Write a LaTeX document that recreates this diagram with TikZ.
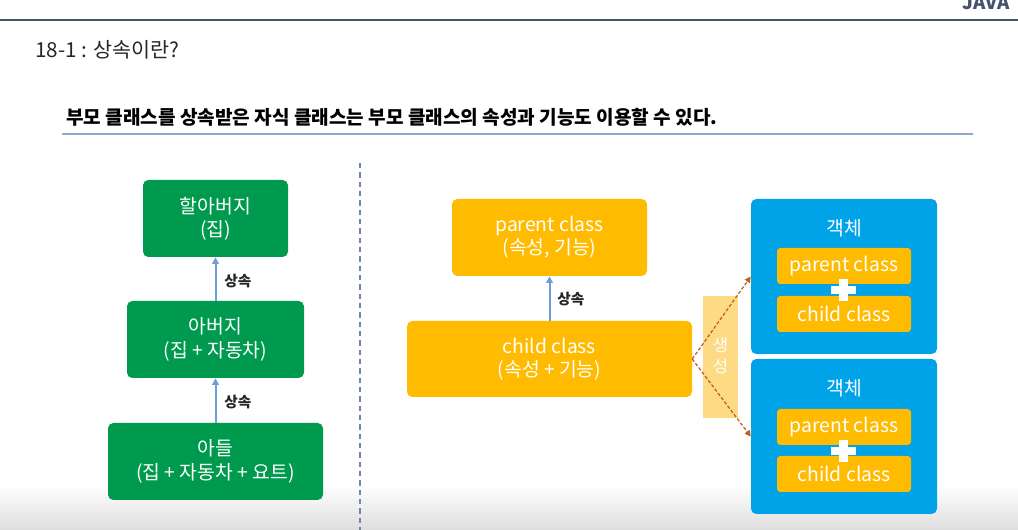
\documentclass[tikz,border=0pt]{standalone}
\usepackage{fontspec}
\setmainfont{Noto Sans CJK KR}
\usetikzlibrary{arrows.meta,calc}
\definecolor{hdr}{HTML}{44546A}
\definecolor{sep}{HTML}{8FAAC8}
\definecolor{gbox}{HTML}{009A4E}
\definecolor{ybox}{HTML}{FFBB00}
\definecolor{bbox}{HTML}{00A2E8}
\definecolor{genbox}{HTML}{FDDB85}
\definecolor{arrb}{HTML}{6A9FD8}
\definecolor{arro}{HTML}{C55A11}
\tikzset{
  box/.style={rounded corners=4pt, inner sep=0pt, align=center, text=white,
     font=\fontsize{14.5}{17.5}\selectfont},
  gbx/.style={box, fill=gbox},
  ybx/.style={box, fill=ybox},
  bbx/.style={box, fill=bbox},
  ibx/.style={box, fill=ybox, rounded corners=2.5pt, font=\fontsize{14.5}{16}\selectfont},
  inh/.style={draw=arrb, line width=1.5pt, -{Triangle[length=5pt,width=5pt]}},
  inhlbl/.style={font=\bfseries\fontsize{11}{13}\selectfont, text=black!85, inner sep=0pt, anchor=west},
  mk/.style={draw=arro, line width=0.9pt, dash pattern=on 2.5pt off 1.5pt, -{Triangle[length=4.5pt,width=4.5pt]}},
  plusbar/.style={fill=white, draw=none}
}
\begin{document}
\begin{tikzpicture}[x=0.75pt,y=-0.75pt]
\useasboundingbox (0,0) rectangle (1018,530);
\clip (0,0) rectangle (1018,530);
\fill[white] (0,0) rectangle (1018,530);
\shade[top color=white, bottom color=black!13] (0,485) rectangle (1018,530);
% header
\node[font=\bfseries\fontsize{14}{16}\selectfont, text=hdr, anchor=base east, inner sep=0pt] (java) at (1010,10) {JAVA};
\draw[hdr, line width=1.6pt] (0,20) -- (1018,20);
\node[anchor=west, inner sep=0pt, font=\fontsize{15.5}{18}\selectfont, text=black!85] (title) at (35,50) {18-1 : 상속이란?};
\node[anchor=west, inner sep=0pt, font=\bfseries\fontsize{14.3}{17}\selectfont, text=black] (sub) at (66,117) {부모 클래스를 상속받은 자식 클래스는 부모 클래스의 속성과 기능도 이용할 수 있다.};
\draw[sep, line width=0.8pt] (62,134) -- (973,134);
\draw[sep!80!black, line width=0.8pt, dash pattern=on 4pt off 3pt] (360,163) -- (360,530);
% left
\node[gbx, minimum width=108.75pt, minimum height=57.75pt] (gp) at (215.5,218.5) {할아버지\\(집)};
\node[gbx, minimum width=132.75pt, minimum height=57.75pt] (fa) at (215.5,339.5) {아버지\\(집 + 자동차)};
\node[gbx, minimum width=161.25pt, minimum height=57.75pt] (so) at (215.5,461.5) {아들\\(집 + 자동차 + 요트)};
\draw[inh] (fa.north) -- (gp.south);
\draw[inh] (so.north) -- (fa.south);
\node[inhlbl] (l1) at (224,281) {상속};
\node[inhlbl] (l2) at (224,402) {상속};
% middle
\node[ybx, minimum width=146.25pt, minimum height=57.75pt] (pc) at (549.5,237.5) {parent class\\(속성, 기능)};
\node[ybx, minimum width=213.75pt, minimum height=57pt] (cc) at (549.5,359) {child class\\(속성 + 기능)};
\draw[inh] (cc.north) -- (pc.south);
\node[inhlbl] (l3) at (557,299) {상속};
\node[fill=genbox, minimum width=26.25pt, minimum height=91.5pt, inner sep=0pt] (gen) at (720.5,357) {};
\node[text=white, align=center, font=\fontsize{12.5}{15.5}\selectfont, inner sep=0pt] (gent) at (720.5,356) {생\\성};
% right
\node[bbx, minimum width=139.5pt, minimum height=116.25pt] (o1) at (844,276.5) {};
\node[bbx, minimum width=139.5pt, minimum height=116.25pt] (o2) at (844,436.5) {};
\node[text=white, font=\fontsize{14.5}{16}\selectfont, inner sep=0pt] (t1) at (844,228) {객체};
\node[text=white, font=\fontsize{14.5}{16}\selectfont, inner sep=0pt] (t2) at (844,388) {객체};
\node[ibx, minimum width=100.5pt, minimum height=27pt] (p1) at (844,266) {parent class};
\node[ibx, minimum width=100.5pt, minimum height=27pt] (c1) at (844,314) {child class};
\node[ibx, minimum width=100.5pt, minimum height=27pt] (p2) at (844,427) {parent class};
\node[ibx, minimum width=100.5pt, minimum height=27pt] (c2) at (844,474) {child class};
\foreach \yy in {290,451}{
  \fill[plusbar] (830.5,\yy-4) rectangle (855.5,\yy+4);
  \fill[plusbar] (838.5,\yy-11) rectangle (847.5,\yy+11);
}
\draw[mk] (cc.east) -- (o1.west);
\draw[mk] (cc.east) -- (o2.west);
\end{tikzpicture}
\end{document}
